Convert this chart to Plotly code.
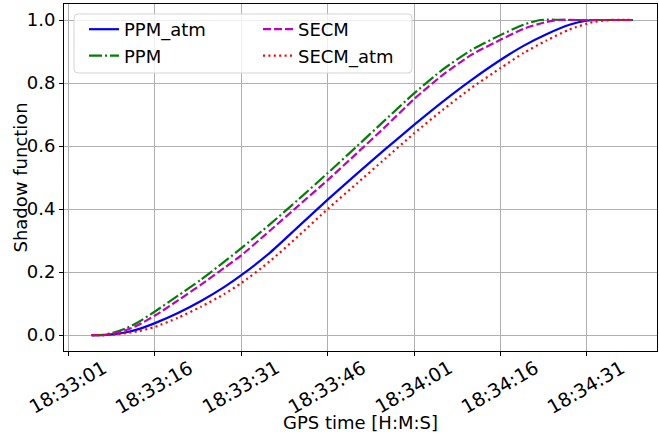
import pandas as pd
import plotly.graph_objects as go

BASE = "2021-01-01 18:33:00"

t_ppm = [5, 7, 9, 11, 13, 16, 20, 24, 28, 31, 36, 41, 46, 51, 56, 61, 66, 71, 76, 80, 83, 88, 94, 99]
ppm = [0.0, 0.001, 0.009, 0.022, 0.04, 0.075, 0.125, 0.176, 0.232, 0.276, 0.352, 0.432, 0.514, 0.598, 0.683, 0.767, 0.843, 0.905, 0.952, 0.985, 1.0, 1.0, 1.0, 1.0]

t_secm = [5, 7, 9, 11, 13, 16, 20, 24, 28, 31, 36, 41, 46, 51, 56, 61, 66, 71, 76, 80, 84, 86, 90, 94, 99]
secm = [0.0, 0.0, 0.006, 0.016, 0.031, 0.062, 0.11, 0.16, 0.213, 0.253, 0.332, 0.412, 0.492, 0.576, 0.661, 0.749, 0.826, 0.89, 0.937, 0.972, 0.994, 1.0, 1.0, 1.0, 1.0]

t_ppm_atm = [5, 7, 9, 11, 13, 16, 20, 24, 28, 31, 36, 41, 46, 51, 56, 61, 66, 71, 76, 80, 84, 88, 91, 93, 96, 99]
ppm_atm = [0.0, 0.0, 0.003, 0.009, 0.018, 0.038, 0.07, 0.108, 0.152, 0.19, 0.262, 0.346, 0.43, 0.511, 0.59, 0.667, 0.741, 0.81, 0.873, 0.918, 0.955, 0.985, 0.998, 1.0, 1.0, 1.0]

t_secm_atm = [5, 7, 9, 11, 13, 16, 20, 24, 28, 31, 36, 41, 46, 51, 56, 61, 66, 71, 76, 80, 84, 88, 92, 95, 99]
secm_atm = [0.0, 0.0, 0.002, 0.006, 0.012, 0.026, 0.055, 0.09, 0.13, 0.165, 0.235, 0.316, 0.4, 0.48, 0.56, 0.64, 0.715, 0.785, 0.847, 0.895, 0.935, 0.97, 0.993, 1.0, 1.0]

tick_seconds = [1, 16, 31, 46, 61, 76, 91]
y_ticks = [0.0, 0.2, 0.4, 0.6, 0.8, 1.0]


def to_time(ts):
    return pd.Timestamp(BASE) + pd.to_timedelta(ts, unit="s")


W, H = 659, 437
ML, MR, MT, MB = 64, 2, 4, 86
PW, PH = W - ML - MR, H - MT - MB


def px_x(px):
    return (px - ML) / PW


def px_y(py):
    return 1 - (py - MT) / PH


FONT = "DejaVu Sans"
FS = 18
fig = go.Figure()

series = [
    ("PPM_atm", t_ppm_atm, ppm_atm, "#0000ff", "solid", "legend"),
    ("PPM", t_ppm, ppm, "#008000", "13px,3px,2px,3px", "legend"),
    ("SECM", t_secm, secm, "#bf00bf", "8px,3px", "legend2"),
    ("SECM_atm", t_secm_atm, secm_atm, "#ff0000", "2px,3.4px", "legend2"),
]
for name, ts, ys, color, dash, leg in series:
    fig.add_trace(go.Scatter(
        x=to_time(ts), y=ys, mode="lines", name=name,
        line=dict(color=color, width=2.2, dash=dash, shape="spline", smoothing=0.6),
        legend=leg, legendgroup=name,
    ))

tickvals = list(to_time(tick_seconds))
ticktext = [v.strftime("%H:%M:%S") for v in tickvals]

# x tick labels: rotated 30 deg, centred under each tick
for tv, tt in zip(tickvals, ticktext):
    fig.add_annotation(
        x=tv, xref="x", y=px_y(382), yref="paper", text=tt, textangle=-30,
        showarrow=False, xanchor="center", yanchor="middle",
        xshift=-1, yshift=-5,
        font=dict(family=FONT, size=19, color="black"),
    )

# axis titles
fig.add_annotation(
    x=0.5, xref="paper", y=px_y(422), yref="paper", text="GPS time [H:M:S]",
    showarrow=False, xanchor="center", yanchor="middle",
    font=dict(family=FONT, size=FS, color="black"),
)
fig.add_annotation(
    x=px_x(20), xref="paper", y=0.5, yref="paper", text="Shadow function",
    textangle=-90, showarrow=False, xanchor="center", yanchor="middle",
    font=dict(family=FONT, size=FS, color="black"),
)

# legend frame (rounded)
x0, x1, y0, y1 = px_x(74), px_x(412), px_y(73), px_y(14)
rx, ry = 4 / PW, 4 / PH
path = (f"M {x0+rx},{y1} L {x1-rx},{y1} Q {x1},{y1} {x1},{y1-ry} "
        f"L {x1},{y0+ry} Q {x1},{y0} {x1-rx},{y0} L {x0+rx},{y0} "
        f"Q {x0},{y0} {x0},{y0+ry} L {x0},{y1-ry} Q {x0},{y1} {x0+rx},{y1} Z")
fig.add_shape(type="path", path=path, xref="paper", yref="paper",
              line=dict(color="#d5d5d5", width=1), fillcolor="rgba(255,255,255,0.8)",
              layer="above")

leg_common = dict(
    orientation="v", yanchor="top", xanchor="left",
    bgcolor="rgba(0,0,0,0)", borderwidth=0, tracegroupgap=0,
    font=dict(family=FONT, size=FS, color="black"),
)
fig.update_layout(
    width=W, height=H,
    margin=dict(l=ML, r=MR, t=MT, b=MB, autoexpand=False),
    paper_bgcolor="white", plot_bgcolor="white",
    font=dict(family=FONT, size=FS, color="black"),
    showlegend=True,
    legend=dict(x=px_x(84), y=px_y(11), **leg_common),
    legend2=dict(x=px_x(258), y=px_y(11), **leg_common),
    xaxis=dict(
        type="date", automargin=False,
        range=[to_time(0.2), to_time(103.2)],
        tickvals=tickvals, showticklabels=False,
        showgrid=True, gridcolor="#b0b0b0", gridwidth=1,
        ticks="outside", ticklen=4, tickcolor="black",
        showline=True, linecolor="black", linewidth=1, mirror=True,
        zeroline=False,
    ),
    yaxis=dict(
        automargin=False,
        range=[-0.0505, 1.0508],
        tickvals=y_ticks, ticktext=[f"{v:.1f}" for v in y_ticks],
        showgrid=True, gridcolor="#b0b0b0", gridwidth=1,
        ticks="outside", ticklen=4, tickcolor="black",
        showline=True, linecolor="black", linewidth=1, mirror=True,
        zeroline=False,
        tickfont=dict(size=FS),
    ),
)

fig.write_html("out.html", config={"displayModeBar": False},
               post_script="document.body.style.margin='0';")
